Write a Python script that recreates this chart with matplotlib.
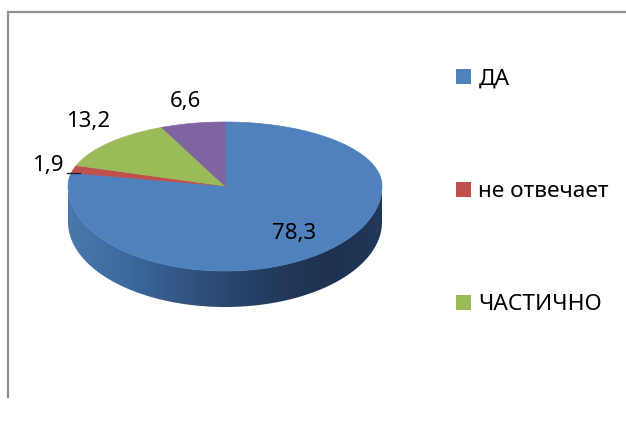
import numpy as np
import matplotlib
matplotlib.use("Agg")
import matplotlib.pyplot as plt
from matplotlib.patches import Polygon, Rectangle
from matplotlib.colors import LinearSegmentedColormap

categories = ["ДА", "не отвечает", "ЧАСТИЧНО", "нет"]
values = [78.3, 1.9, 13.2, 6.6]
value_labels = ["78,3", "1,9", "13,2", "6,6"]
colors = ["#4f81bd", "#c0504d", "#9bbb59", "#8064a2"]
legend_count = 3

plt.rcParams["font.family"] = ["Noto Sans", "DejaVu Sans"]

W, H = 626, 423
fig = plt.figure(figsize=(W / 100, H / 100), dpi=100, facecolor="white")
ax = fig.add_axes([0, 0, 1, 1])
ax.axis("off")

cx, cy = 225, 186
rx, ry_top, ry_bot = 157, 64, 85
depth = 36


def rim(theta):
    """Rim point for a clockwise angle measured from 12 o'clock."""
    theta = np.asarray(theta)
    c = np.cos(theta)
    return cx + rx * np.sin(theta), cy - np.where(c > 0, ry_top, ry_bot) * c


# side wall, shaded from the left edge to the right edge
cmap = LinearSegmentedColormap.from_list(
    "side", ["#4a78ac", "#3f6ca0", "#34598a", "#2a4870", "#223a5c", "#1e3150", "#223858"])
th = np.linspace(np.pi / 2, 3 * np.pi / 2, 181)
x, y = rim(th)
outline = np.column_stack([np.r_[x, x[::-1]], np.r_[y, y[::-1] + depth]])
side = Polygon(outline, closed=True, fc="none", ec="none", transform=ax.transData)
ax.add_patch(side)
gradient = np.linspace(0, 1, 316)[None, :]
img = ax.imshow(gradient, cmap=cmap, extent=(cx - rx - 1, cx + rx + 1, cy + ry_bot + depth + 1, cy - 1),
                aspect="auto", interpolation="bilinear", zorder=2)
img.set_clip_path(side)

ax.set_xlim(0, W)
ax.set_ylim(H, 0)

# top surface
fractions = np.cumsum([0] + values) / sum(values) * 2 * np.pi
for a0, a1, col in zip(fractions[:-1], fractions[1:], colors):
    th = np.linspace(a0, a1, 240)
    x, y = rim(th)
    pts = np.column_stack([np.r_[cx, x], np.r_[cy, y]])
    ax.add_patch(Polygon(pts, closed=True, fc=col, ec=col, lw=0.5, zorder=3))

# chart frame (cropped on the right and at the bottom)
ax.plot([8, 8, W], [397, 12.5, 12.5], color="#8f8f8f", lw=1.6,
        solid_joinstyle="miter", zorder=5)

# data labels
label_pos = [(294, 233), (47.5, 165), (88, 122), (185, 101)]
for txt, (x, y) in zip(value_labels, label_pos):
    ax.text(x, y, txt, fontsize=16, color="black", ha="center", va="center", zorder=6)
ax.plot([67, 80], [173, 173], color="#222222", lw=1.0, zorder=6)

# legend
handles = [Rectangle((0, 0), 1, 1, fc=c, ec="none") for c in colors[:legend_count]]
leg = ax.legend(handles, categories[:legend_count], loc="upper left",
                bbox_to_anchor=(456 / W, 1 - 68.5 / H), bbox_transform=fig.transFigure,
                frameon=False, fontsize=16.3, labelspacing=4.06, borderpad=0, borderaxespad=0,
                handlelength=0.66, handleheight=0.66, handletextpad=0.33)

fig.savefig("out.png", dpi=100, facecolor="white")
